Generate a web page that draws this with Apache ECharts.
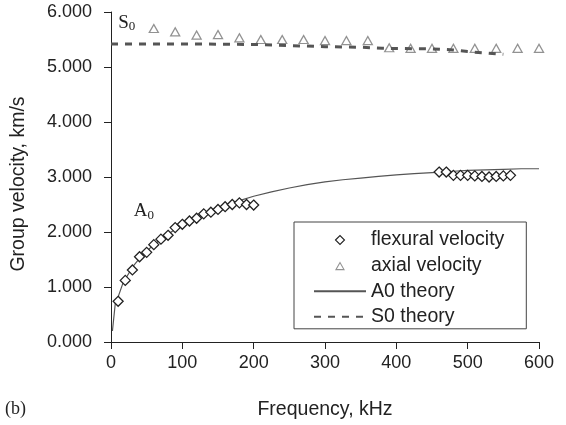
<!DOCTYPE html>
<html>
<head>
<meta charset="utf-8">
<script src="https://cdn.jsdelivr.net/npm/echarts@6/dist/echarts.min.js"></script>
<style>
html,body{margin:0;padding:0;background:#fff;}
#c{width:566px;height:425px;}
</style>
</head>
<body>
<div id="c"></div>
<script>
// Flexural velocity (diamonds): frequency kHz, group velocity km/s
const flexFreq = [10,20,30,40,50,60,70,80,90,100,110,120,130,140,150,160,170,180,190,200,
                  460,470,480,490,500,510,520,530,540,550,560];
const flexVel  = [0.74,1.12,1.31,1.55,1.63,1.77,1.87,1.94,2.08,2.14,2.20,2.25,2.33,2.36,2.41,2.46,2.50,2.53,2.50,2.49,
                  3.09,3.09,3.03,3.03,3.03,3.02,3.01,3.00,3.01,3.02,3.03];
// Axial velocity (triangles)
const axialFreq = [60,90,120,150,180,210,240,270,300,330,360,390,420,450,480,510,540,570,600];
const axialVel  = [5.70,5.64,5.58,5.59,5.53,5.50,5.50,5.50,5.48,5.48,5.48,5.35,5.34,5.34,5.34,5.34,5.34,5.34,5.34];
// A0 theory
const a0Freq = [2,6,10,17,20,30,40,50,60,70,80,90,100,120,140,160,180,200,225,250,275,300,325,350,375,400,425,450,475,500,525,550,575,600];
const a0Vel  = [0.20,0.70,0.82,1.08,1.14,1.36,1.52,1.65,1.77,1.87,1.96,2.05,2.13,2.26,2.38,2.48,2.57,2.65,2.73,2.80,2.86,2.91,2.95,2.98,3.01,3.04,3.06,3.08,3.10,3.12,3.13,3.14,3.15,3.15];
// S0 theory
const s0Freq = [0,100,200,250,300,350,380,450,480,500,530,550];
const s0Vel  = [5.42,5.42,5.41,5.39,5.37,5.36,5.34,5.33,5.31,5.28,5.25,5.23];
// Axis ticks
const xTicks = [0,100,200,300,400,500,600];
const yTicks = [0,1,2,3,4,5,6];

const zip = (a,b) => a.map((v,i)=>[v,b[i]]);
const sans = '"Liberation Sans", Arial, sans-serif';
const serif = '"Liberation Serif", "Times New Roman", serif';

// legend icons padded to the full icon width so the marker keeps its size
const diamondIcon = 'path://M0,5L0,5M21.5,5L26,0.5L30.5,5L26,9.5ZM52,5L52,5M26,0L26,0M26,10L26,10';
const triangleIcon = 'path://M0,0L0,0M22,9L26,2L30,9ZM52,10L52,10';

const chart = echarts.init(document.getElementById('c'), null, {renderer:'canvas'});
const option = {
  animation: false,
  backgroundColor: '#fff',
  grid: {left:111, right:27, top:12, bottom:82},
  xAxis: {
    type:'value', min:xTicks[0], max:xTicks[xTicks.length-1], interval:100,
    name:'Frequency, kHz', nameLocation:'middle', nameGap:58,
    nameTextStyle:{fontFamily:sans, fontSize:19.5, color:'#222'},
    axisLine:{show:true, onZero:false, lineStyle:{color:'#222', width:1}},
    axisTick:{show:true, length:7, lineStyle:{color:'#222'}},
    axisLabel:{fontFamily:sans, fontSize:18, color:'#222', margin:12},
    splitLine:{show:false}
  },
  yAxis: {
    type:'value', min:yTicks[0], max:yTicks[yTicks.length-1], interval:1,
    name:'Group velocity, km/s', nameLocation:'middle', nameGap:82,
    nameTextStyle:{fontFamily:sans, fontSize:19.5, color:'#222', padding:[0,14,0,0]},
    axisLine:{show:true, lineStyle:{color:'#222', width:1}},
    axisTick:{show:true, length:7, lineStyle:{color:'#222'}},
    axisLabel:{fontFamily:sans, fontSize:18, color:'#222', margin:19,
      formatter:v=>v.toFixed(3)},
    splitLine:{show:false}
  },
  legend: {
    orient:'vertical', left:294, top:222,
    padding:[8,22,2,19],
    itemWidth:52, itemHeight:10, itemGap:5.6,
    borderColor:'#444', borderWidth:1, backgroundColor:'#fff',
    textStyle:{fontFamily:sans, fontSize:19.5, color:'#222', lineHeight:20},
    data:[
      {name:'flexural velocity', icon:diamondIcon,
        itemStyle:{color:'#fff', borderColor:'#222', borderWidth:1.1}},
      {name:'axial velocity', icon:triangleIcon,
        itemStyle:{color:'#fff', borderColor:'#777', borderWidth:1.1}},
      {name:'A0 theory'},
      {name:'S0 theory'}
    ]
  },
  series: [
    {
      name:'axial velocity', type:'scatter', data:zip(axialFreq,axialVel),
      symbol:'triangle', symbolSize:[9,8], z:2,
      itemStyle:{color:'#fff', borderColor:'#777', borderWidth:1.3}
    },
    {
      name:'A0 theory', type:'line', data:zip(a0Freq,a0Vel),
      symbol:'none', smooth:false, z:3,
      itemStyle:{color:'rgba(0,0,0,0)'},
      lineStyle:{color:'#555', width:1.2}
    },
    {
      name:'S0 theory', type:'line', data:zip(s0Freq,s0Vel),
      symbol:'none', z:3,
      itemStyle:{color:'rgba(0,0,0,0)'},
      lineStyle:{color:'#555', width:3, type:[7,7]}
    },
    {
      name:'flexural velocity', type:'scatter', data:zip(flexFreq,flexVel),
      symbol:'diamond', symbolSize:[10,10], z:4,
      itemStyle:{color:'#fff', borderColor:'#222', borderWidth:1.3, opacity:1}
    }
  ]
};
chart.setOption(option);

function place(){
  const s0 = chart.convertToPixel({gridIndex:0},[10,5.98]);
  const a0 = chart.convertToPixel({gridIndex:0},[32,2.55]);
  chart.setOption({graphic:[
    {type:'text', left:s0[0], top:s0[1], z:10,
      style:{text:'{m|S}{s|0}', rich:{m:{fontFamily:serif,fontSize:19,fill:'#222'},
        s:{fontFamily:serif,fontSize:13,fill:'#222',padding:[8,0,0,0]}}}},
    {type:'text', left:a0[0], top:a0[1], z:10,
      style:{text:'{m|A}{s|0}', rich:{m:{fontFamily:serif,fontSize:19,fill:'#222'},
        s:{fontFamily:serif,fontSize:13,fill:'#222',padding:[8,0,0,0]}}}},
    {type:'text', left:5, top:400, z:10,
      style:{text:'(b)', fontFamily:serif, fontSize:18, fill:'#222'}}
  ]});
}
place();
</script>
</body>
</html>
